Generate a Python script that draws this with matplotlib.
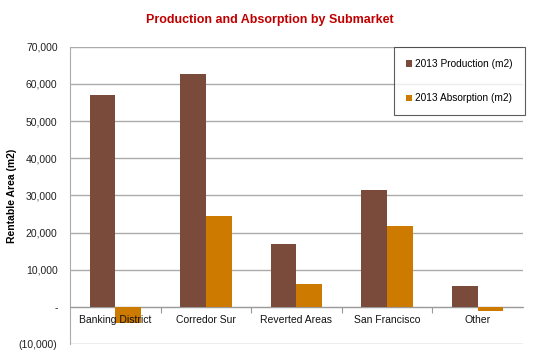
import matplotlib.pyplot as plt
import numpy as np
from matplotlib.ticker import FuncFormatter, FixedLocator

submarkets = ["Banking District", "Corredor Sur", "Reverted Areas", "San Francisco", "Other"]
production = [57000, 62800, 17000, 31500, 5600]
absorption = [-4200, 24500, 6300, 21900, -1100]

plt.rcParams["font.family"] = ["Liberation Sans", "DejaVu Sans"]

fig = plt.figure(figsize=(5.39, 3.63), dpi=100)
ax = fig.add_axes([0.13, 0.052, 0.84, 0.819])

x = np.arange(len(submarkets))
w = 0.285
ax.bar(x - w / 2, production, w, color="#7A4B3A", label="2013 Production (m2)", zorder=3)
ax.bar(x + w / 2, absorption, w, color="#CC7A00", label="2013 Absorption (m2)", zorder=3)

ax.set_xlim(-0.5, len(submarkets) - 0.5)
ax.set_ylim(-10000, 70000)
ax.set_yticks(np.arange(-10000, 70001, 10000))


def fmt(v, pos):
    if v == 0:
        return "-"
    if v < 0:
        return "({:,.0f})".format(-v)
    return "{:,.0f}".format(v)


ax.yaxis.set_major_formatter(FuncFormatter(fmt))
ax.tick_params(axis="y", length=0, labelsize=7.5, pad=9, colors="#222222")
ax.grid(axis="y", color="#ABABAB", lw=1, zorder=0)

# category boundaries get tick marks, names sit in the middle
ax.xaxis.set_major_locator(FixedLocator(np.arange(0.5, len(submarkets) - 0.5, 1)))
ax.xaxis.set_minor_locator(FixedLocator(x))
ax.set_xticklabels([], minor=False)
ax.set_xticklabels(submarkets, minor=True)
ax.tick_params(axis="x", which="major", length=4, color="#9A9A9A", direction="out")
ax.tick_params(axis="x", which="minor", length=0, labelsize=7.5, pad=6, colors="#111111")
ax.xaxis.set_zorder(4)  # category names sit on top of the negative bars

ax.spines["bottom"].set_position(("data", 0))
ax.spines["bottom"].set_color("#9A9A9A")
ax.spines["left"].set_color("#ABABAB")
ax.spines["top"].set_visible(False)
ax.spines["right"].set_visible(False)

ax.set_ylabel("Rentable Area (m2)", fontsize=7.5, fontweight="bold")
ax.yaxis.set_label_coords(-0.117, 0.5)
fig.text(0.5, 0.945, "Production and Absorption by Submarket", ha="center", va="center",
         fontsize=9, fontweight="bold", color="#C00000")

leg = ax.legend(loc="upper left", bbox_to_anchor=(0.715, 1.0), fontsize=7.3, frameon=True,
                fancybox=False, edgecolor="#333333", handlelength=0.6, handleheight=0.6,
                handletextpad=0.3, labelspacing=2.4, borderpad=1.2, borderaxespad=0)
leg.get_frame().set_linewidth(0.8)

fig.savefig("out.png", dpi=100)
